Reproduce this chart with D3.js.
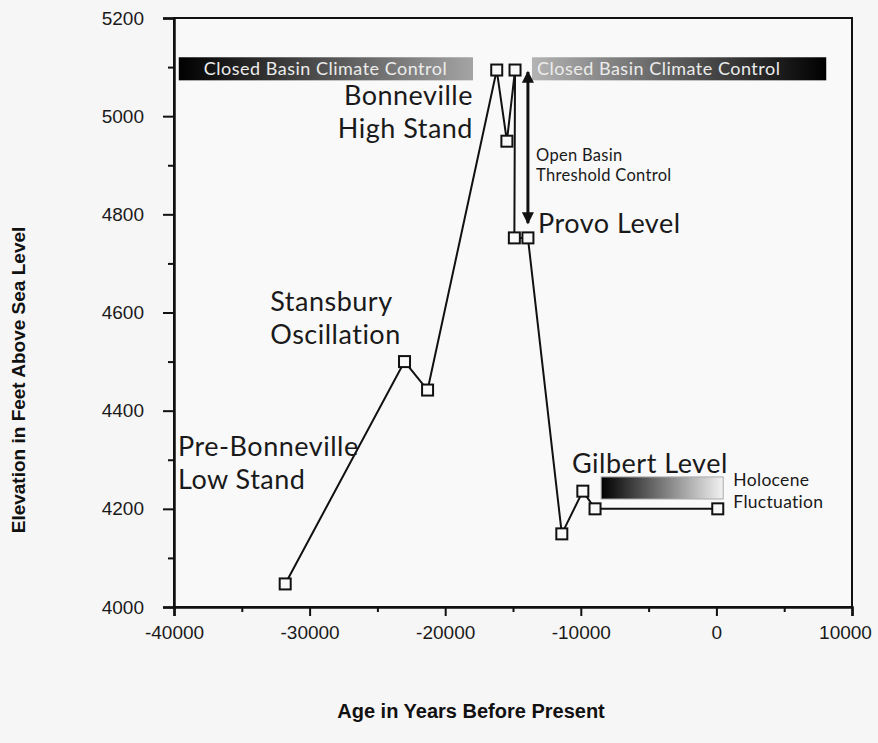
<!DOCTYPE html>
<html><head><meta charset="utf-8">
<script src="https://cdn.jsdelivr.net/npm/d3@7"></script>
<style>body{margin:0;background:#f6f6f6;}svg{display:block;}</style>
</head><body>
<script>
const ages = [-31800, -23000, -21300, -16200, -15450, -14850, -14900, -13900, -11400, -9850, -8950, 100];
const elevations = [4047, 4500, 4442, 5094, 4949, 5094, 4752, 4752, 4149, 4236, 4200, 4200];
const xTicks = [-40000, -30000, -20000, -10000, 0, 10000];
const yTicks = [4000, 4200, 4400, 4600, 4800, 5000, 5200];
const climateBars = [
  {x0: -39650, x1: -17950, y0: 5073, y1: 5120, label: "Closed Basin Climate Control", dir: "dark-left"},
  {x0: -13600, x1: 8100, y0: 5073, y1: 5120, label: "Closed Basin Climate Control", dir: "dark-right"}
];
const holoceneBar = {x0: -8500, x1: 500, y0: 4220, y1: 4265};
const arrow = {x: -13900, y0: 5090, y1: 4782};
const labels = [
  {lines: ["Bonneville", "High Stand"], x: -17950, y: 5023, anchor: "end", size: 27},
  {lines: ["Stansbury", "Oscillation"], x: -32900, y: 4603, anchor: "start", size: 27},
  {lines: ["Pre-Bonneville", "Low Stand"], x: -39700, y: 4308, anchor: "start", size: 27},
  {lines: ["Provo Level"], x: -13150, y: 4762, anchor: "start", size: 27},
  {lines: ["Gilbert Level"], x: -10650, y: 4273, anchor: "start", size: 27},
  {lines: ["Open Basin", "Threshold Control"], x: -13300, y: 4909, anchor: "start", size: 16.5},
  {lines: ["Holocene", "Fluctuation"], x: 1250, y: 4247, anchor: "start", size: 17.5}
];

const W = 878, H = 743;
const svg = d3.select("body").append("svg").attr("width", W).attr("height", H);
const x = d3.scaleLinear().domain([-40000, 10000]).range([174, 852]);
const y = d3.scaleLinear().domain([4000, 5200]).range([607, 18]);
const font = "Lato, 'Open Sans', sans-serif";
const afont = "'Liberation Sans', Arial, sans-serif";
const fmt = d => d3.format("d")(d).replace("\u2212", "-");

const defs = svg.append("defs");
function grad(id, stops) {
  const g = defs.append("linearGradient").attr("id", id).attr("x1", "0%").attr("x2", "100%");
  stops.forEach(s => g.append("stop").attr("offset", s[0]).attr("stop-color", s[1]));
}
grad("gL", [["0%", "#000"], ["100%", "#a4a4a4"]]);
grad("gR", [["0%", "#b4b4b4"], ["100%", "#000"]]);
grad("gH", [["0%", "#000"], ["100%", "#f2f2f2"]]);

svg.append("rect").attr("x", x(-40000)).attr("y", y(5200)).attr("width", x(10000) - x(-40000))
  .attr("height", y(4000) - y(5200)).attr("fill", "#f9f9f9").attr("stroke", "#111").attr("stroke-width", 2);

// axes
const gx = svg.append("g").attr("transform", `translate(0,${y(4000)})`)
  .call(d3.axisBottom(x).tickValues(xTicks).tickSize(9).tickPadding(10).tickFormat(fmt));
svg.append("g").attr("transform", `translate(0,${y(4000)})`)
  .call(d3.axisBottom(x).tickValues(d3.range(-35000, 10000, 10000)).tickSize(5).tickFormat(""))
  .select(".domain").remove();
const gy = svg.append("g").attr("transform", `translate(${x(-40000)},0)`)
  .call(d3.axisLeft(y).tickValues(yTicks).tickSize(11).tickPadding(19).tickFormat(fmt));
svg.append("g").attr("transform", `translate(${x(-40000)},0)`)
  .call(d3.axisLeft(y).tickValues(d3.range(4100, 5200, 200)).tickSize(6).tickFormat(""))
  .select(".domain").remove();
svg.selectAll(".domain").attr("stroke-width", 2.5).attr("stroke", "#111");
svg.selectAll(".tick line").attr("stroke-width", 2).attr("stroke", "#111");
svg.selectAll(".tick text").attr("font-family", afont).attr("font-size", 19).attr("fill", "#1a1a1a");
// keep the last x label inside the page
gx.selectAll(".tick text").filter(d => d === 10000).attr("dx", -7);

// axis titles
svg.append("text").attr("x", 471).attr("y", 718).attr("text-anchor", "middle")
  .attr("font-family", afont).attr("font-weight", "bold").attr("font-size", 20)
  .attr("fill", "#111").text("Age in Years Before Present");
svg.append("text").attr("transform", "translate(25,380) rotate(-90)").attr("text-anchor", "middle")
  .attr("font-family", afont).attr("font-weight", "bold").attr("font-size", 19)
  .attr("fill", "#111").text("Elevation in Feet Above Sea Level");

// climate bars
climateBars.forEach(b => {
  svg.append("rect").attr("x", x(b.x0)).attr("y", y(b.y1)).attr("width", x(b.x1) - x(b.x0))
    .attr("height", y(b.y0) - y(b.y1)).attr("fill", b.dir === "dark-left" ? "url(#gL)" : "url(#gR)");
  svg.append("text").attr("x", b.dir === "dark-left" ? x(b.x0) + 25 : x(b.x0) + 5)
    .attr("y", (y(b.y0) + y(b.y1)) / 2 + 6.5).attr("font-family", font).attr("font-size", 18)
    .attr("letter-spacing", 0.5).attr("fill", "#ececec").text(b.label);
});
svg.append("rect").attr("x", x(holoceneBar.x0)).attr("y", y(holoceneBar.y1))
  .attr("width", x(holoceneBar.x1) - x(holoceneBar.x0)).attr("height", y(holoceneBar.y0) - y(holoceneBar.y1))
  .attr("fill", "url(#gH)").attr("stroke", "#aaa").attr("stroke-width", 1);

// arrow
defs.append("marker").attr("id", "ah").attr("viewBox", "0 0 10 10").attr("refX", 9).attr("refY", 5)
  .attr("markerWidth", 5).attr("markerHeight", 4).attr("orient", "auto-start-reverse").attr("markerUnits", "strokeWidth")
  .append("path").attr("d", "M0,0 L10,5 L0,10 z").attr("fill", "#111");
svg.append("line").attr("x1", x(arrow.x)).attr("x2", x(arrow.x)).attr("y1", y(arrow.y0)).attr("y2", y(arrow.y1))
  .attr("stroke", "#111").attr("stroke-width", 3).attr("marker-start", "url(#ah)").attr("marker-end", "url(#ah)");

// line + markers
const pts = ages.map((a, i) => [a, elevations[i]]);
svg.append("path").datum(pts).attr("fill", "none").attr("stroke", "#111").attr("stroke-width", 2)
  .attr("d", d3.line().x(d => x(d[0])).y(d => y(d[1])));
svg.selectAll("rect.pt").data(pts).enter().append("rect").attr("class", "pt")
  .attr("x", d => x(d[0]) - 5.5).attr("y", d => y(d[1]) - 5.5).attr("width", 11).attr("height", 11)
  .attr("fill", "#f9f9f9").attr("stroke", "#111").attr("stroke-width", 2);

// labels
labels.forEach(l => {
  const big = l.size > 20;
  const t = svg.append("text").attr("x", x(l.x)).attr("y", y(l.y)).attr("text-anchor", l.anchor)
    .attr("font-family", font).attr("font-size", l.size).attr("fill", "#1a1a1a")
    .attr("letter-spacing", big ? 0.5 : 0.3);
  l.lines.forEach((s, i) => t.append("tspan").attr("x", x(l.x)).attr("dy", i === 0 ? 0 : (big ? "1.22em" : (l.size > 17 ? "1.26em" : "1.21em"))).text(s));
});
</script>
</body></html>
